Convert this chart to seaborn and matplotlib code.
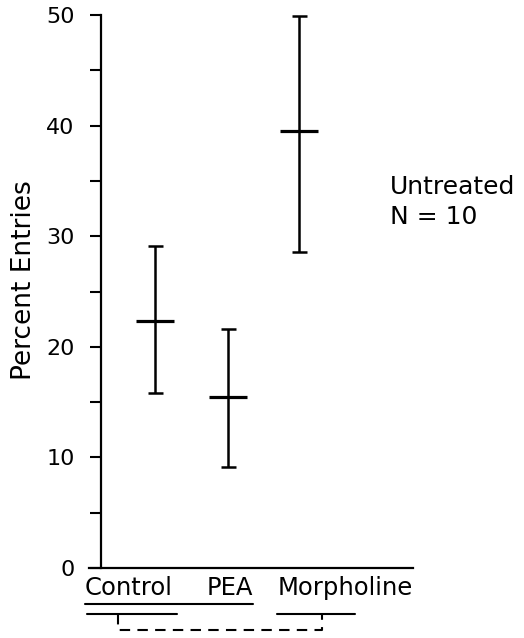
import matplotlib
matplotlib.use("Agg")
import matplotlib.pyplot as plt
import matplotlib.transforms as mtransforms
import seaborn as sns
import numpy as np

# values
groups = ["Control", "PEA", "Morpholine"]
group_x = [54, 127, 198]          # horizontal position of each error bar
label_x = [28, 129, 244]          # where the group names sit under the axis
means = [22.3, 15.5, 39.5]
upper = [29.1, 21.6, 49.9]
lower = [15.8, 9.1, 28.6]
y_major = [0, 10, 20, 30, 40, 50]
y_minor = [5, 15, 25, 35, 45]


def setup_plotting():
    sns.set_theme(style="ticks")
    plt.rcParams['font.family'] = ['DejaVu Sans']
    for key in ['text.color', 'axes.labelcolor', 'xtick.color', 'ytick.color',
                'axes.edgecolor']:
        plt.rcParams[key] = 'black'


def main():
    setup_plotting()
    fig = plt.figure(figsize=(5.24, 6.38), dpi=100)
    ax = fig.add_axes([89 / 524, 1 - 568 / 638, 324 / 524, 553 / 638])

    means_a = np.array(means)
    yerr = [means_a - np.array(lower), np.array(upper) - means_a]
    ax.errorbar(group_x, means, yerr=yerr, fmt='none', ecolor='black',
                elinewidth=1.8, capsize=5.4, capthick=1.8, clip_on=False)
    sns.scatterplot(x=group_x, y=means, marker='_', s=720, color='black',
                    linewidth=2.3, ax=ax, clip_on=False, zorder=3)

    ax.set_xlim(-12, 312)
    ax.set_ylim(0, 50)
    ax.spines['left'].set_position(('data', 0))
    for s in ['top', 'right']:
        ax.spines[s].set_visible(False)
    for s in ['left', 'bottom']:
        ax.spines[s].set_linewidth(1.6)

    ax.set_yticks(y_major)
    ax.set_yticks(y_minor, minor=True)
    ax.tick_params(axis='y', which='both', direction='out', length=8,
                   width=1.5, labelsize=16, pad=11)
    ax.set_xticks(label_x, groups)
    ax.tick_params(axis='x', length=0, labelsize=17.5, pad=6)

    ax.set_ylabel("Percent Entries", fontsize=19)
    ax.yaxis.set_label_coords(-0.16, 0.52)

    ax.text(0.929, 0.711, "Untreated\nN = 10", transform=ax.transAxes,
            fontsize=18, ha='left', va='top', linespacing=1.3)

    # underlines / comparison bracket below the group names
    trans = mtransforms.blended_transform_factory(ax.transData, ax.transAxes)
    fig.canvas.draw()
    inv = ax.transData.inverted()
    boxes = [t.get_window_extent() for t in ax.get_xticklabels()]
    x0 = inv.transform((boxes[0].x0, 0))[0]
    x1 = inv.transform((boxes[1].x1, 0))[0]
    ly = dict(color='black', lw=1.5, transform=trans, clip_on=False)
    ax.plot([x0, x1], [-0.066, -0.066], **ly)
    ax.plot([-14, 76], [-0.084, -0.084], **ly)
    ax.plot([176, 254], [-0.084, -0.084], **ly)
    ax.plot([17, 17, 221, 221], [-0.084, -0.113, -0.113, -0.084],
            linestyle=(0, (5, 3.5)), **ly)

    fig.savefig("out.png", dpi=100)


main()
